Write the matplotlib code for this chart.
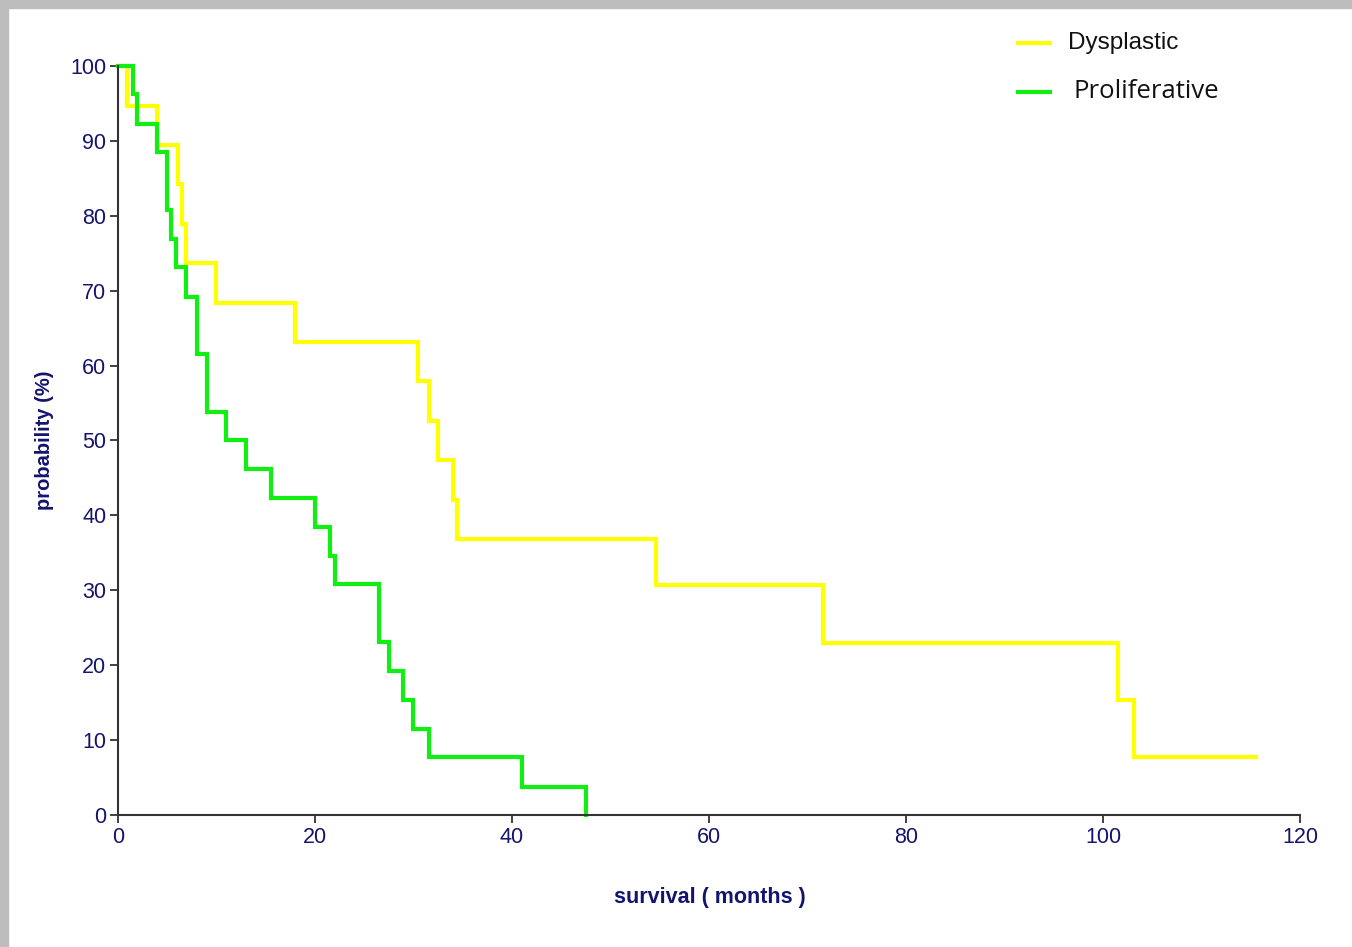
import matplotlib
matplotlib.use("Agg")
import matplotlib.pyplot as plt
from matplotlib.lines import Line2D
from matplotlib.patches import Rectangle

# Kaplan-Meier steps (months, % surviving)
dys_months = [0, 0.9, 4.0, 6.1, 6.5, 6.9, 10.0, 18.0, 30.5, 31.6, 32.5, 34.0, 34.4,
              54.6, 71.6, 101.5, 103.1, 115.5]
dys_surv = [100, 94.7, 89.5, 84.2, 78.9, 73.7, 68.4, 63.2, 57.9, 52.6, 47.4, 42.1, 36.8,
            30.7, 23.0, 15.4, 7.7, 7.7]

pro_months = [0, 1.5, 1.9, 4.0, 5.0, 5.4, 5.9, 6.9, 8.0, 9.0, 11.0, 13.0, 15.5, 20.0,
              21.5, 22.0, 26.5, 27.5, 28.9, 29.9, 31.6, 41.0, 47.5]
pro_surv = [100, 96.2, 92.3, 88.5, 80.8, 76.9, 73.1, 69.2, 61.5, 53.8, 50.0, 46.2, 42.3,
            38.5, 34.6, 30.8, 23.1, 19.2, 15.4, 11.5, 7.7, 3.8, 0]

x_ticks = [0, 20, 40, 60, 80, 100, 120]
y_ticks = [0, 10, 20, 30, 40, 50, 60, 70, 80, 90, 100]

NAVY = "#14146e"
YELLOW = "#ffff00"
GREEN = "#11ee11"

plt.rcParams["font.family"] = ["Liberation Sans", "DejaVu Sans"]

fig = plt.figure(figsize=(13.52, 9.47), dpi=100, facecolor="white")
W, H = 1352, 947

# grey frame on top and left edges
fig.patches.append(Rectangle((0, 1 - 8 / H), 1, 8 / H, transform=fig.transFigure,
                             color="#bdbdbd", zorder=0))
fig.patches.append(Rectangle((0, 0), 8 / W, 1, transform=fig.transFigure,
                             color="#bdbdbd", zorder=0))

ax = fig.add_axes([118 / W, 1 - 815 / H, (1300 - 118) / W, (815 - 66) / H])
ax.set_facecolor("white")

ax.step(dys_months, dys_surv, where="post", color=YELLOW, lw=3.0, clip_on=False,
        solid_joinstyle="miter")
ax.step(pro_months, pro_surv, where="post", color=GREEN, lw=3.0, clip_on=False,
        solid_joinstyle="miter")

ax.set_xlim(0, 120)
ax.set_ylim(0, 100)
ax.set_xticks(x_ticks)
ax.set_yticks(y_ticks)
ax.tick_params(direction="out", length=6, width=1.3, color="#333333",
               labelcolor=NAVY, labelsize=15.5, pad=2.5)
for side in ("top", "right"):
    ax.spines[side].set_visible(False)
for side in ("left", "bottom"):
    ax.spines[side].set_color("#333333")
    ax.spines[side].set_linewidth(1.5)

fig.text(45 / W, 1 - 440 / H, "probability (%)", rotation=90, ha="center", va="center",
         color=NAVY, fontsize=14.5, fontweight="bold")
fig.text(710 / W, 1 - 897 / H, "survival ( months )", ha="center", va="center",
         color=NAVY, fontsize=15.5, fontweight="bold")

# legend drawn by hand to match the reference placement
fig.add_artist(Line2D([1018 / W, 1050 / W], [1 - 43 / H, 1 - 43 / H],
                      transform=fig.transFigure, color=YELLOW, lw=3.0))
fig.add_artist(Line2D([1018 / W, 1050 / W], [1 - 92 / H, 1 - 92 / H],
                      transform=fig.transFigure, color=GREEN, lw=3.0))
fig.text(1068 / W, 1 - 43 / H, "Dysplastic", ha="left", va="center",
         color="#111111", fontsize=17.5)
fig.text(1073 / W, 1 - 92 / H, "Proliferative", ha="left", va="center",
         color="#111111", fontsize=18.5, family=["Open Sans", "DejaVu Sans"])

fig.savefig("out.png", dpi=100, facecolor="white")
